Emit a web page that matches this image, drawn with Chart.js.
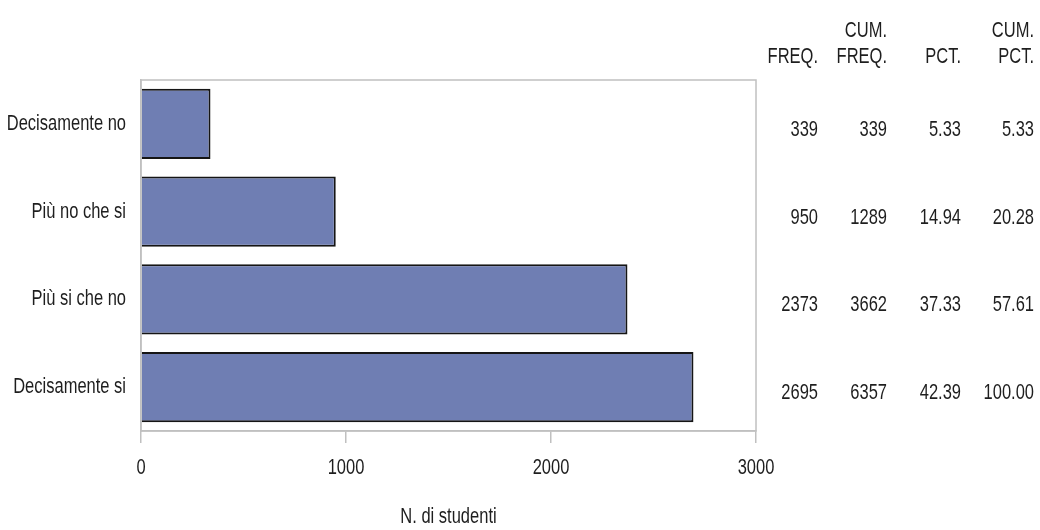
<!DOCTYPE html>
<html><head><meta charset="utf-8">
<script src="https://cdn.jsdelivr.net/npm/chart.js@4.4.0/dist/chart.umd.min.js"></script>
<style>html,body{margin:0;padding:0;background:#fff}#wrap{width:1040px;height:530px}</style>
</head><body><div id="wrap"><canvas id="c" width="1040" height="530"></canvas></div>
<script>
const categories = ["Decisamente no", "Più no che si", "Più si che no", "Decisamente si"];
const freq = [339, 950, 2373, 2695];
const cumFreq = [339, 1289, 3662, 6357];
const pct = ["5.33", "14.94", "37.33", "42.39"];
const cumPct = ["5.33", "20.28", "57.61", "100.00"];
const xTicks = [0, 1000, 2000, 3000];
const tableHeaders = [["", "FREQ."], ["CUM.", "FREQ."], ["", "PCT."], ["CUM.", "PCT."]];
const tableCols = [freq, cumFreq, pct, cumPct];

const FONT = "'Liberation Sans', Arial, sans-serif";
const FS = 22;
const SX = 0.75; // horizontal condensing like Arial Narrow
const TXT = '#1e1e1e';
const GRAY = '#c0c0c0';

const canvas = document.getElementById('c');
const ctx0 = canvas.getContext('2d');
const origFill = ctx0.fillText.bind(ctx0);
ctx0.fillText = function (t, x, y, mw) {
  this.save();
  this.translate(x, y);
  this.scale(SX, 1);
  if (mw !== undefined) origFill(t, 0, 0, mw / SX); else origFill(t, 0, 0);
  this.restore();
};

const framePlugin = {
  id: 'frame',
  afterDraw(chart) {
    const {ctx, chartArea: a} = chart;
    ctx.save();
    ctx.strokeStyle = GRAY;
    ctx.lineWidth = 1.5;
    ctx.strokeRect(a.left, a.top, a.right - a.left, a.bottom - a.top);
    ctx.fillStyle = TXT;
    ctx.font = FS + "px " + FONT;
    ctx.textAlign = 'right';
    ctx.textBaseline = 'middle';
    const colX = [818, 887, 961, 1034];
    tableHeaders.forEach((h, i) => {
      if (h[0]) ctx.fillText(h[0], colX[i], 31);
      ctx.fillText(h[1], colX[i], 57);
    });
    const ys = chart.scales.y;
    tableCols.forEach((col, i) => {
      col.forEach((v, j) => {
        ctx.fillText(String(v), colX[i], ys.getPixelForValue(j) + 6);
      });
    });
    ctx.restore();
  }
};

new Chart(canvas, {
  type: 'bar',
  data: {
    labels: categories,
    datasets: [{
      data: freq,
      backgroundColor: '#6f7eb3',
      borderColor: '#151515',
      borderWidth: 2,
      barPercentage: 0.8,
      categoryPercentage: 1.0
    }]
  },
  options: {
    indexAxis: 'y',
    responsive: false,
    animation: false,
    layout: {padding: {left: 0, right: 284, top: 80, bottom: 0}},
    plugins: {legend: {display: false}, tooltip: {enabled: false}},
    scales: {
      x: {
        min: 0, max: 3000,
        afterBuildTicks(s) { s.ticks = xTicks.map(v => ({value: v})); },
        afterFit(s) { s.height = 99; },
        grid: {drawOnChartArea: false, color: GRAY, tickLength: 12, lineWidth: 1.5},
        border: {display: true, color: GRAY, width: 1.5},
        ticks: {color: TXT, font: {family: FONT, size: FS}, padding: 12, maxRotation: 0,
          callback: v => String(v)},
        title: {display: true, text: 'N. di studenti', color: TXT, font: {family: FONT, size: FS}, padding: {top: 0, bottom: 0}}
      },
      y: {
        afterFit(s) { s.width = 141; },
        grid: {display: false},
        border: {display: true, color: GRAY, width: 1.5},
        ticks: {color: TXT, font: {family: FONT, size: FS}, padding: 7}
      }
    }
  },
  plugins: [framePlugin]
});
</script></body></html>
